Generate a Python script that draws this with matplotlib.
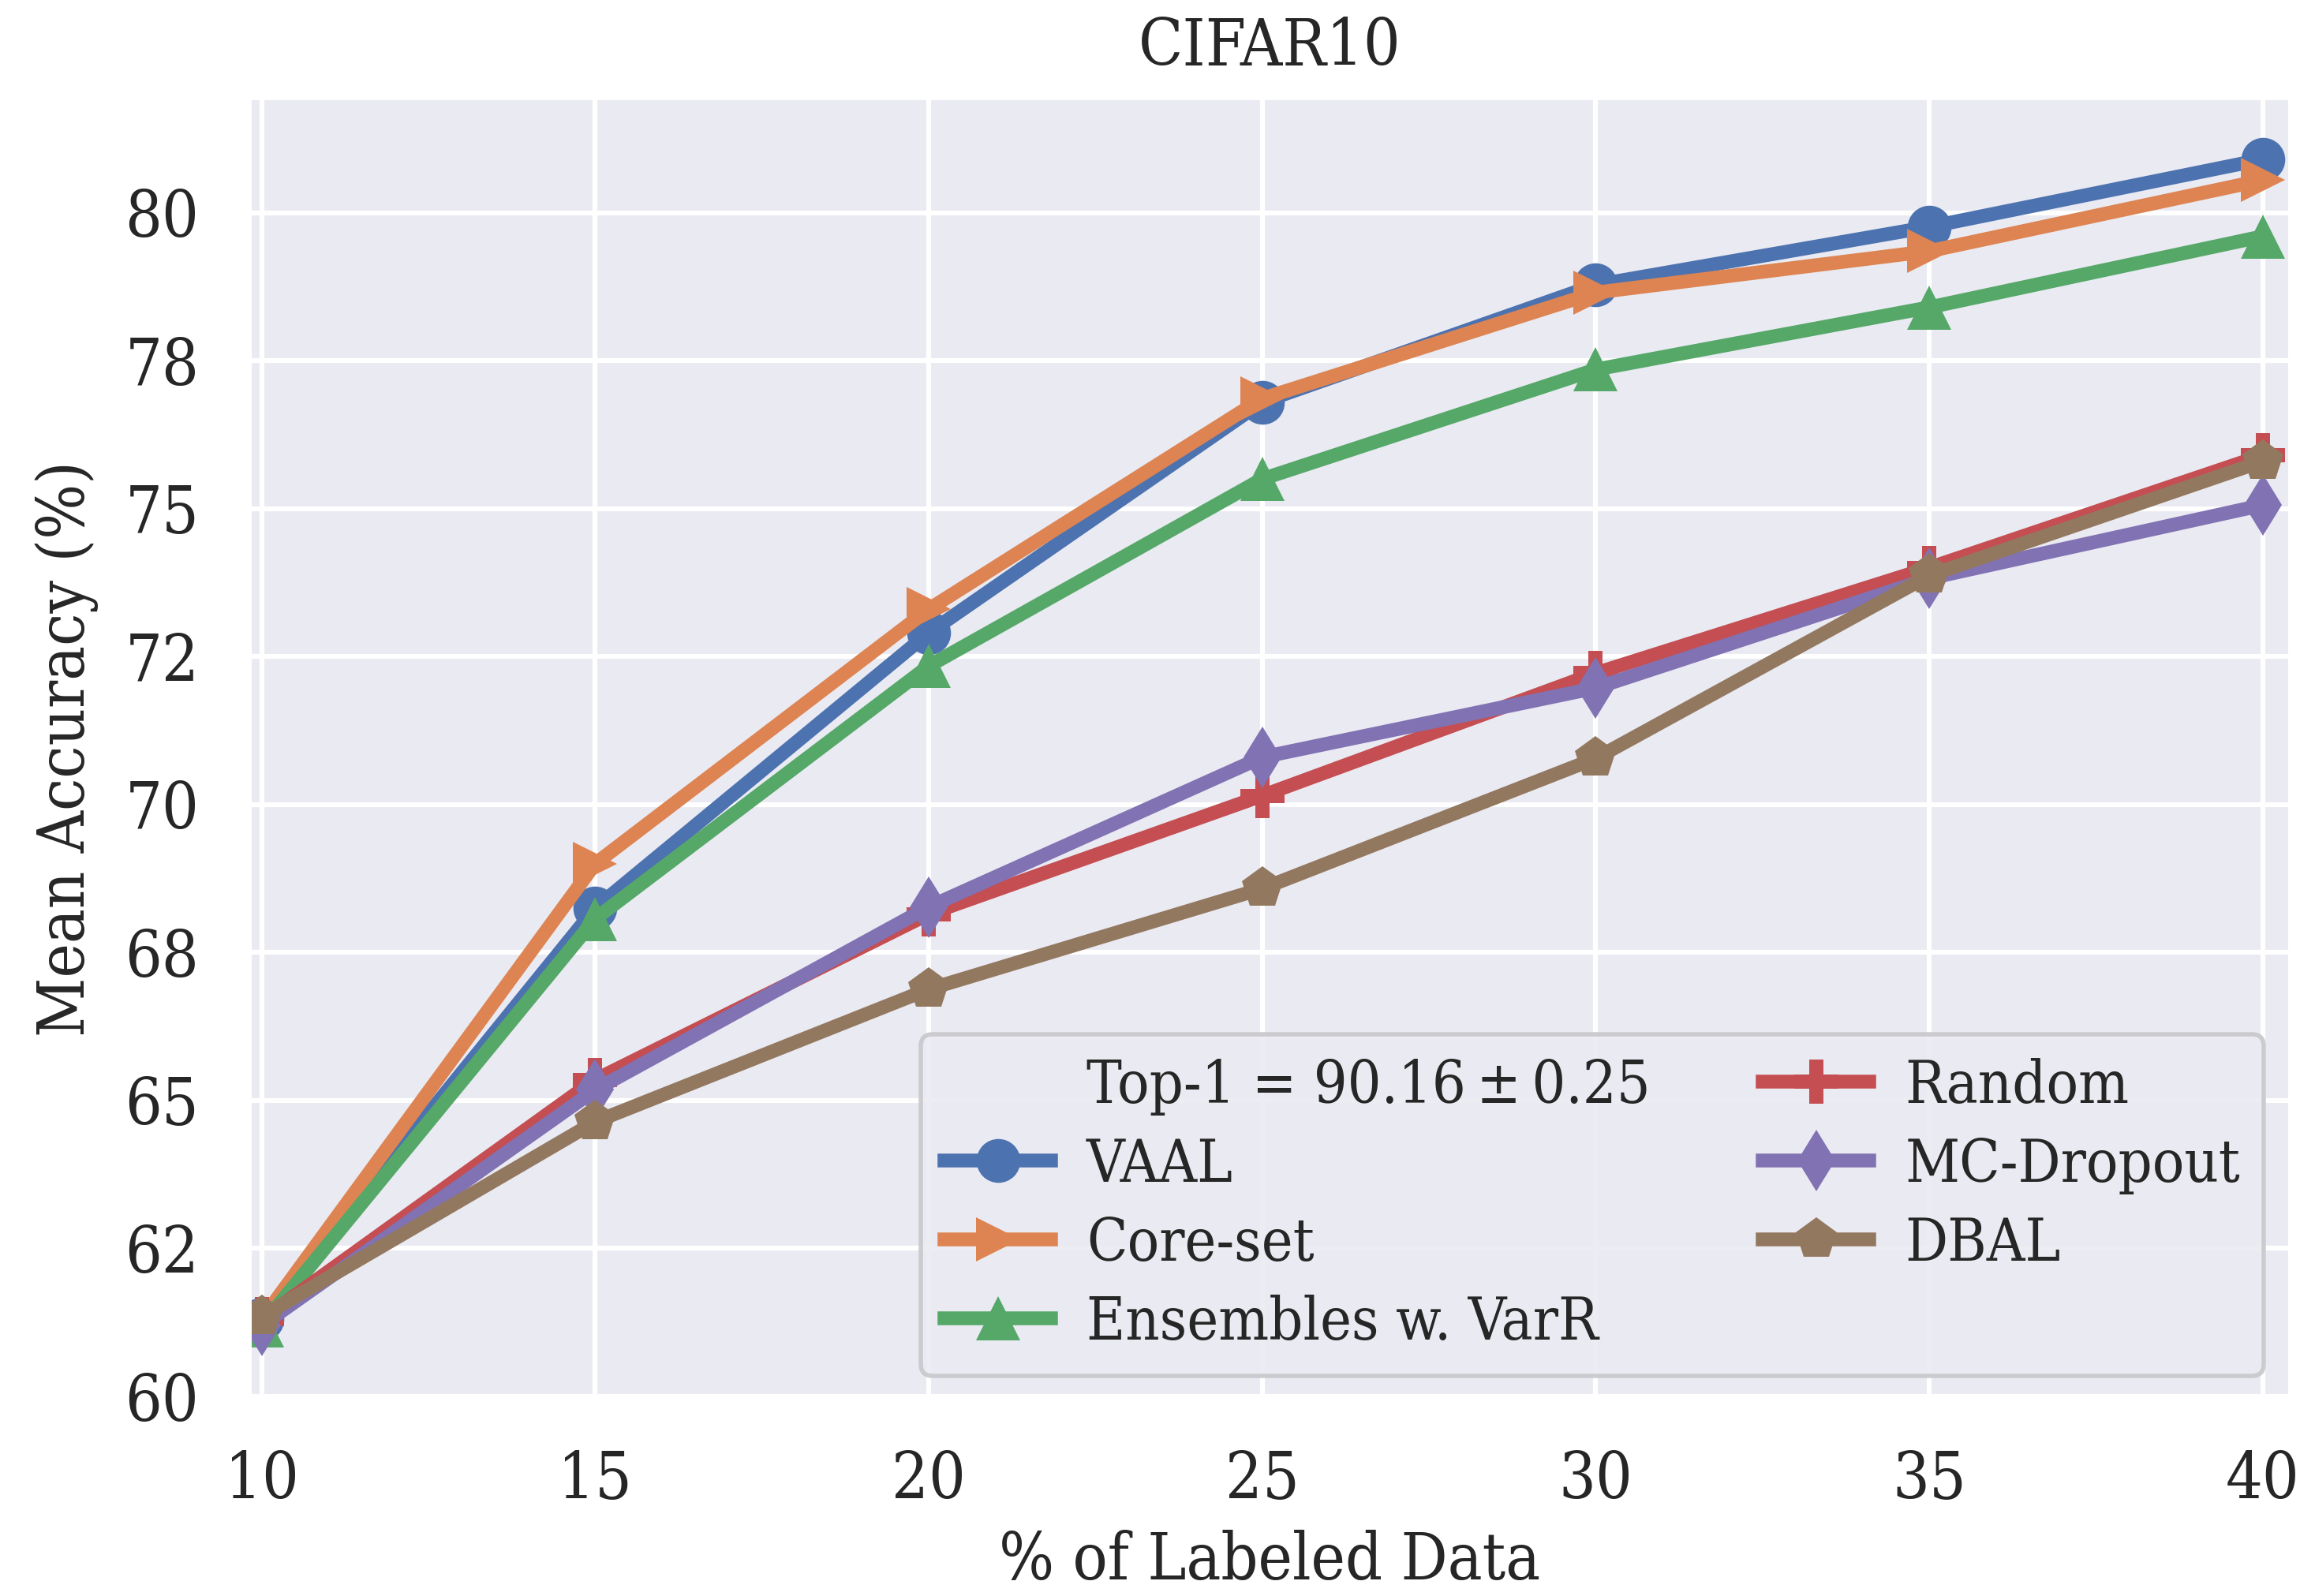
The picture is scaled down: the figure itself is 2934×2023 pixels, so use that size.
import matplotlib
matplotlib.use("Agg")
import matplotlib.pyplot as plt
from matplotlib import font_manager

# ---------------- data ----------------
labeled_pct = [10, 15, 20, 25, 30, 35, 40]
vaal = [61.30, 68.25, 72.90, 76.80, 78.78, 79.76, 80.90]
coreset = [61.30, 69.00, 73.30, 76.86, 78.65, 79.35, 80.55]
ensembles = [61.20, 68.07, 72.34, 75.50, 77.35, 78.40, 79.60]
random_sel = [61.30, 65.35, 68.15, 70.15, 72.22, 74.00, 75.90]
mc_dropout = [61.20, 65.18, 68.27, 70.80, 71.97, 73.82, 75.06]
dbal = [61.35, 64.64, 66.88, 68.58, 70.78, 73.87, 75.80]

series_names = ["VAAL", "Core-set", "Ensembles w. VarR", "Random", "MC-Dropout", "DBAL"]
series_values = [vaal, coreset, ensembles, random_sel, mc_dropout, dbal]
top1_label = "Top-1 = 90.16\u2009\u00b1\u20090.25"

xtick_values = [10, 15, 20, 25, 30, 35, 40]
xtick_labels = ["10", "15", "20", "25", "30", "35", "40"]
ytick_values = [60, 62.5, 65, 67.5, 70, 72.5, 75, 77.5, 80]
ytick_labels = ["60", "62", "65", "68", "70", "72", "75", "78", "80"]

# ---------------- style ----------------
colors = ["#4C72B0", "#DD8452", "#55A868", "#C44E52", "#8172B3", "#937860"]
markers = ["o", ">", "^", "P", "d", "p"]

names = {f.name for f in font_manager.fontManager.ttflist}
if "DejaVu Serif Condensed" in names:
    fam = ["DejaVu Serif Condensed", "DejaVu Serif"]
    stretch = "normal"
else:
    fam = ["DejaVu Serif"]
    stretch = "condensed"

plt.rcParams["font.family"] = fam
plt.rcParams["font.stretch"] = stretch
plt.rcParams["text.color"] = "#262626"
plt.rcParams["axes.labelcolor"] = "#262626"
plt.rcParams["xtick.color"] = "#262626"
plt.rcParams["ytick.color"] = "#262626"

W, H, DPI = 2934, 2023, 200
fig = plt.figure(figsize=(W / DPI, H / DPI), dpi=DPI)
ax = fig.add_axes([319 / W, 1 - 1770 / H, (2900 - 319) / W, (1770 - 127) / H])
ax.set_facecolor("#EAEAF2")
for sp in ax.spines.values():
    sp.set_visible(False)
ax.grid(True, color="white", linewidth=2.2)
ax.set_axisbelow(True)

ax.plot([], [], " ", label=top1_label)
for name, vals, c, m in zip(series_names, series_values, colors, markers):
    ax.plot(labeled_pct, vals, color=c, marker=m, markersize=20, linewidth=6.3,
            label=name, markeredgewidth=0)

ax.set_xlim(9.85, 40.38)
ax.set_ylim(60, 81.9)
ax.set_xticks(xtick_values)
ax.set_xticklabels(xtick_labels)
ax.set_yticks(ytick_values)
ax.set_yticklabels(ytick_labels)
ax.tick_params(axis="both", length=0, pad=24, labelsize=29.5)

ax.set_xlabel("% of Labeled Data", fontsize=29.5, labelpad=8)
ax.set_ylabel("Mean Accuracy (%)", fontsize=29.5, labelpad=12)
ax.set_title("CIFAR10", fontsize=29.5, pad=16)

leg = ax.legend(ncol=2, loc="lower right", bbox_to_anchor=(0.988, 0.016),
                borderaxespad=0, fontsize=27, labelspacing=0.36,
                handlelength=1.8, handletextpad=0.6, columnspacing=1.9,
                borderpad=0.4, frameon=True, fancybox=True)
leg.get_frame().set_facecolor("#EAEAF2")
leg.get_frame().set_edgecolor("#C8C8CC")
leg.get_frame().set_linewidth(2.0)
leg.get_frame().set_alpha(0.9)

fig.savefig("out.png", dpi=DPI)
